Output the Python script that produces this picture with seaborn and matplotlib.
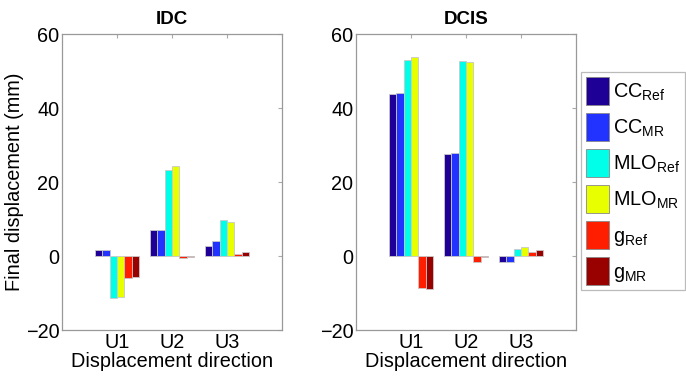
import matplotlib
matplotlib.use("Agg")
import matplotlib.pyplot as plt
import seaborn as sns
import pandas as pd

# --- data ---
directions = ["U1", "U2", "U3"]
series = ["CC_Ref", "CC_MR", "MLO_Ref", "MLO_MR", "g_Ref", "g_MR"]
legend_labels = [r"CC$_{\mathrm{Ref}}$", r"CC$_{\mathrm{MR}}$", r"MLO$_{\mathrm{Ref}}$",
                 r"MLO$_{\mathrm{MR}}$", r"g$_{\mathrm{Ref}}$", r"g$_{\mathrm{MR}}$"]

# values per series, in order U1, U2, U3
idc_cc_ref = [1.6, 6.9, 2.8]
idc_cc_mr = [1.6, 6.9, 4.0]
idc_mlo_ref = [-11.4, 23.2, 9.7]
idc_mlo_mr = [-11.2, 24.3, 9.1]
idc_g_ref = [-6.0, -0.5, 0.6]
idc_g_mr = [-5.8, -0.3, 1.1]

dcis_cc_ref = [43.9, 27.7, -1.6]
dcis_cc_mr = [44.0, 27.9, -1.6]
dcis_mlo_ref = [53.0, 52.8, 1.9]
dcis_mlo_mr = [53.8, 52.5, 2.3]
dcis_g_ref = [-8.7, -1.7, 1.0]
dcis_g_mr = [-9.0, -0.4, 1.6]

colors = ["#1f0096", "#2233ff", "#00ffe8", "#e8ff00", "#ff1e00", "#990000"]


def make_frame(cols):
    rows = []
    for name, vals in zip(series, cols):
        for d, v in zip(directions, vals):
            rows.append({"direction": d, "series": name, "value": v})
    return pd.DataFrame(rows)


idc = make_frame([idc_cc_ref, idc_cc_mr, idc_mlo_ref, idc_mlo_mr, idc_g_ref, idc_g_mr])
dcis = make_frame([dcis_cc_ref, dcis_cc_mr, dcis_mlo_ref, dcis_mlo_mr, dcis_g_ref, dcis_g_mr])

sns.set_style("white")
plt.rcParams["font.family"] = ["Liberation Sans", "DejaVu Sans"]
plt.rcParams["mathtext.fontset"] = "custom"
plt.rcParams["mathtext.rm"] = "Liberation Sans"
plt.rcParams["text.color"] = "black"
plt.rcParams["axes.labelcolor"] = "black"
plt.rcParams["xtick.labelcolor"] = "black"
plt.rcParams["ytick.labelcolor"] = "black"

fig = plt.figure(figsize=(6.86, 3.77), dpi=100)
W, H = 686, 377
ax1 = fig.add_axes([62 / W, 1 - 330 / H, 220 / W, 296 / H])
ax2 = fig.add_axes([356 / W, 1 - 330 / H, 220 / W, 296 / H])

for ax, df, title in [(ax1, idc, "IDC"), (ax2, dcis, "DCIS")]:
    sns.barplot(data=df, x="direction", y="value", hue="series", hue_order=series,
                order=directions, palette=colors, width=0.8, saturation=1,
                edgecolor="#c8c8c8", linewidth=0.6, ax=ax, legend=False)
    ax.set_xlim(-1, 3)
    ax.set_ylim(-20, 60)
    ax.set_yticks([-20, 0, 20, 40, 60])
    ax.set_yticklabels(["\u221220", "0", "20", "40", "60"])
    ax.set_title(title, fontsize=13.5, fontweight="bold", pad=7)
    ax.set_xlabel("Displacement direction", fontsize=14.3, labelpad=0.5)
    ax.set_ylabel("")
    ax.tick_params(axis="both", direction="in", length=3, color="#aaaaaa",
                   labelsize=14.3, pad=2, top=True, right=True)
    for s in ax.spines.values():
        s.set_color("#999999")
        s.set_linewidth(0.9)

ax1.set_ylabel("Final displacement (mm)", fontsize=14.3, labelpad=1)

handles = [plt.Rectangle((0, 0), 1, 1, facecolor=c, edgecolor="#888888", linewidth=0.6)
           for c in colors]
leg = fig.legend(handles, legend_labels, loc="upper left",
                 bbox_to_anchor=(581 / W, 1 - 72 / H), fontsize=14.3,
                 frameon=True, fancybox=False, handlelength=1.15, handleheight=1.8,
                 handletextpad=0.2, labelspacing=0.4, borderpad=0.25,
                 borderaxespad=0)
leg.get_frame().set_edgecolor("#aaaaaa")
leg.get_frame().set_linewidth(0.9)

fig.savefig("out.png", dpi=100)
